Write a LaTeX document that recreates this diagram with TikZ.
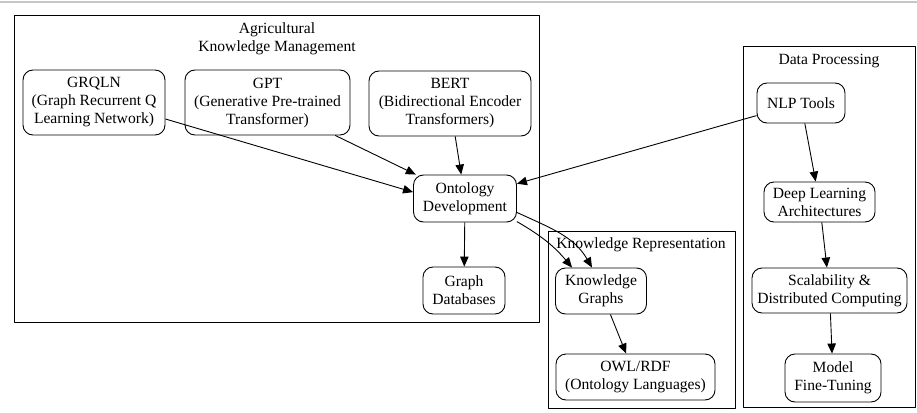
\documentclass[tikz,border=0pt]{standalone}
\usepackage{fontspec}
\setmainfont{Liberation Serif}
\usetikzlibrary{arrows.meta}
\begin{document}
\begin{tikzpicture}[x=1pt, y=-1pt, font=\fontsize{15.6}{18}\selectfont, line join=round, >={Triangle[length=10pt,width=8.5pt]},
	box/.style={draw, rounded corners=10pt, align=center, inner sep=0pt, line width=0.9pt},
	cluster/.style={draw, line width=0.9pt},
	edge/.style={->, line width=0.9pt}]
	\useasboundingbox (0,0) rectangle (917,412);
	\draw[gray!45, line width=1.2pt] (0,2)--(917,2);
	% clusters
	\draw[cluster] (14,15) rectangle (539,322);
	\draw[cluster] (548,231) rectangle (735,408);
	\draw[cluster] (743,46) rectangle (915,407);
	\node (akm) at (277,39) [align=center] {Agricultural\\Knowledge Management};
	\node (kr) at (641,245) {Knowledge Representation};
	\node (dp) at (829,61) {Data Processing};
	% nodes
	\node[box, minimum width=142pt, minimum height=65pt] (grqln) at (94,102.5) {GRQLN\\(Graph Recurrent Q\\Learning Network)};
	\node[box, minimum width=165pt, minimum height=65pt] (gpt) at (267.5,102.5) {GPT\\(Generative Pre-trained\\Transformer)};
	\node[box, minimum width=162pt, minimum height=65pt] (bert) at (450,103.5) {BERT\\(Bidirectional Encoder\\Transformers)};
	\node[box, minimum width=103pt, minimum height=47pt] (onto) at (465,198.5) {Ontology\\Development};
	\node[box, minimum width=82pt, minimum height=47pt] (gdb) at (464,290.5) {Graph\\Databases};
	\node[box, minimum width=91pt, minimum height=46pt] (kg) at (601,291) {Knowledge\\Graphs};
	\node[box, minimum width=159pt, minimum height=46pt] (owl) at (635.5,377) {OWL/RDF\\(Ontology Languages)};
	\node[box, minimum width=88pt, minimum height=40pt] (nlp) at (801,103) {NLP Tools};
	\node[box, minimum width=111pt, minimum height=40pt] (dl) at (819.5,202) {Deep Learning\\Architectures};
	\node[box, minimum width=155pt, minimum height=45pt] (scal) at (829.5,290.5) {Scalability \&\\Distributed Computing};
	\node[box, minimum width=96pt, minimum height=48pt] (model) at (833,378) {Model\\Fine-Tuning};
	% edges
	\draw[edge] (grqln.-13)--(onto.173);
	\draw[edge] (gpt)--(onto);
	\draw[edge] (bert)--(onto);
	\draw[edge] (nlp)--(onto);
	\draw[edge] (onto)--(gdb);
	\draw[edge] (onto.-15) to[out=-25, in=120] (kg.111);
	\draw[edge] (onto.-24) to[out=-30, in=130] (kg.141);
	\draw[edge] (kg)--(owl);
	\draw[edge] (nlp)--(dl);
	\draw[edge] (dl)--(scal);
	\draw[edge] (scal)--(model);
\end{tikzpicture}
\end{document}
